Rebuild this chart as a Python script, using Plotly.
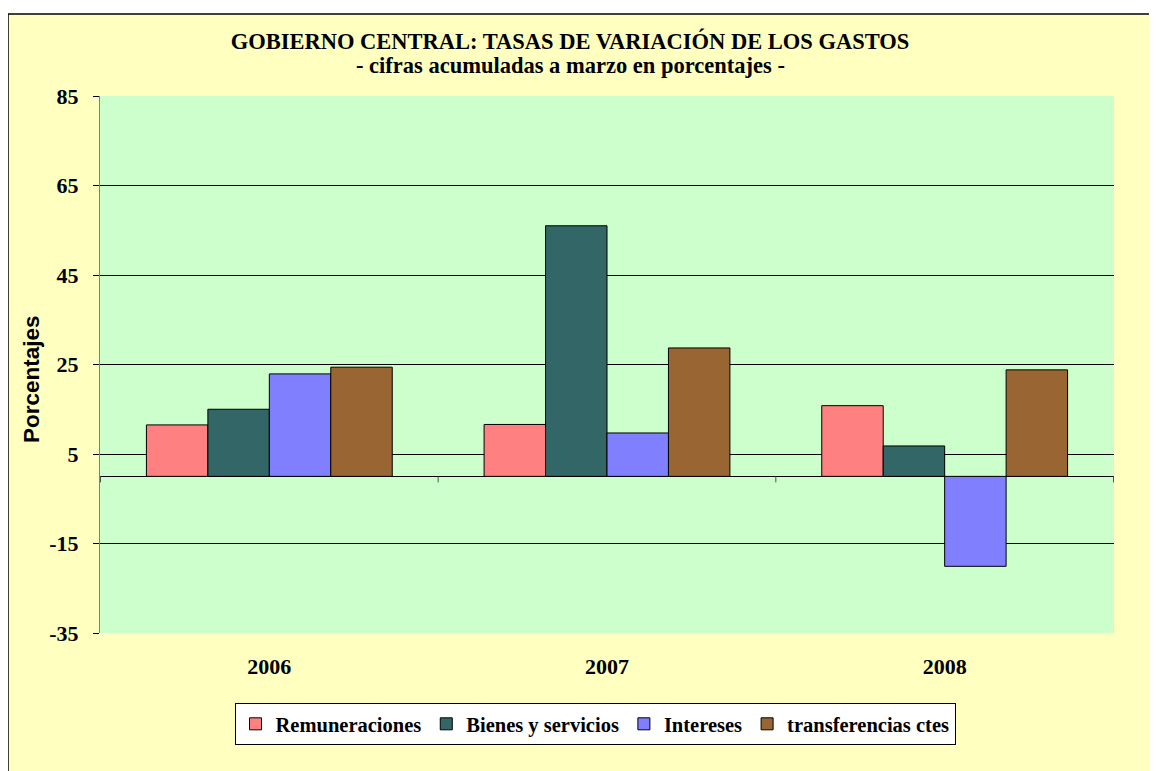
import plotly.graph_objects as go

years = ["2006", "2007", "2008"]
series_names = ["Remuneraciones", "Bienes y servicios", "Intereses", "transferencias ctes"]
remuneraciones = [11.5, 11.6, 15.8]
bienes_servicios = [15.0, 56.0, 6.8]
intereses = [22.9, 9.7, -20.1]
transferencias = [24.4, 28.7, 23.8]
colors = ["#FF8080", "#336666", "#8080FF", "#996633"]
y_ticks = [-35, -15, 5, 25, 45, 65, 85]

W, H = 1149, 763
ML, MR, MT, MB = 92, 43, 88, 138
PW, PH = W - ML - MR, H - MT - MB

fig = go.Figure()
for name, vals, col in zip(series_names,
                           [remuneraciones, bienes_servicios, intereses, transferencias],
                           colors):
    fig.add_trace(go.Bar(x=years, y=vals, name=f"<b>{name}</b>",
                         marker=dict(color=col, line=dict(color="black", width=1))))

serif = "Liberation Serif, Times New Roman, serif"

fig.update_layout(
    width=W, height=H,
    margin=dict(l=ML, r=MR, t=MT, b=MB),
    paper_bgcolor="#FFFFC0",
    plot_bgcolor="#CCFFCC",
    barmode="group", bargap=0.272, bargroupgap=0,
    font=dict(family=serif, color="black", size=21),
    title=dict(text="<b>GOBIERNO CENTRAL: TASAS DE VARIACIÓN DE LOS GASTOS</b>",
               x=562 / W, xanchor="center", y=1 - 33 / H, yanchor="middle",
               yref="container", font=dict(family=serif, size=22.5, color="black")),
    showlegend=True,
    legend=dict(orientation="h", x=(595 - 8 - ML) / PW, xanchor="center",
                y=(H - MB - 695) / PH, yanchor="top",
                bgcolor="white", bordercolor="black", borderwidth=1,
                font=dict(family=serif, size=20.5, color="black"),
                traceorder="normal"),
)

fig.add_annotation(text="<b>- cifras acumuladas a marzo en porcentajes -</b>",
                   showarrow=False, xref="paper", yref="paper",
                   x=(562 - ML) / PW, y=1 + (MT - 58) / PH,
                   xanchor="center", yanchor="middle",
                   font=dict(family=serif, size=22.5, color="black"))

fig.update_xaxes(type="category", showgrid=False, showline=False, ticks="",
                 tickfont=dict(family=serif, size=22, color="black"),
                 tickprefix="<b>", ticksuffix="</b>", ticklabelstandoff=18)
fig.update_yaxes(range=[-35, 85], tickmode="array", tickvals=y_ticks,
                 ticktext=[f"<b>{v}</b>" for v in y_ticks],
                 showgrid=True, gridcolor="black", gridwidth=1,
                 zeroline=True, zerolinecolor="black", zerolinewidth=1,
                 showline=True, linecolor="#808080", linewidth=1,
                 ticks="outside", ticklen=6, tickcolor="black",
                 ticklabelstandoff=10,
                 tickfont=dict(family=serif, size=22, color="black"))

# white strip above the chart frame, and the frame's top and left border
top_frac = 1 + (MT - 6) / PH
fig.add_shape(type="rect", xref="paper", yref="paper", layer="above",
              x0=-ML / PW, x1=1 + MR / PW, y0=top_frac, y1=1 + MT / PH,
              fillcolor="white", line=dict(width=0))
fig.add_shape(type="line", xref="paper", yref="paper",
              x0=-ML / PW, x1=1 + MR / PW, y0=top_frac, y1=top_frac,
              line=dict(color="black", width=1.5))
fig.add_shape(type="line", xref="paper", yref="paper",
              x0=-ML / PW, x1=-ML / PW, y0=-MB / PH, y1=top_frac,
              line=dict(color="black", width=1.5))

# category tick marks on the zero line
for b in [-0.5, 0.5, 1.5, 2.5]:
    fig.add_shape(type="line", xref="x", yref="y", ysizemode="pixel", yanchor=0,
                  x0=b, x1=b, y0=0, y1=-6, line=dict(color="#505050", width=1))

fig.add_annotation(text="<b>Porcentajes</b>", textangle=-90, showarrow=False,
                   xref="paper", yref="paper",
                   x=(24 - ML) / PW, y=(H - MB - 371) / PH,
                   xanchor="center", yanchor="middle",
                   font=dict(family="Liberation Sans, Arial, sans-serif", size=22.5, color="black"))

fig.write_html("out.html")
